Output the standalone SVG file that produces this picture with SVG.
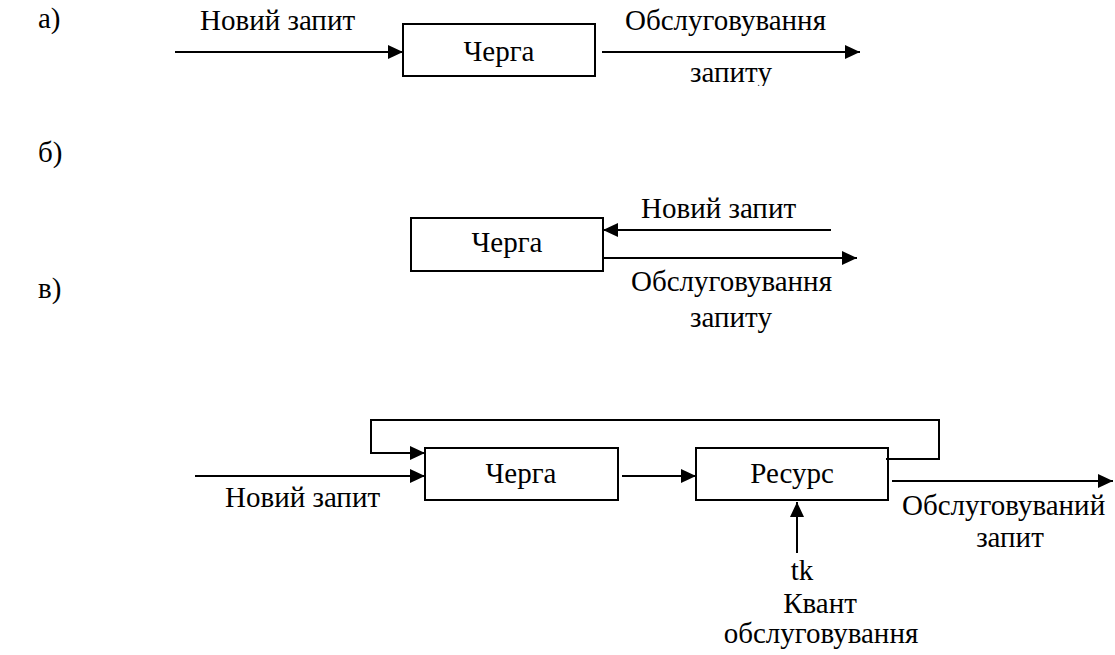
<svg xmlns="http://www.w3.org/2000/svg" width="1115" height="655" viewBox="0 0 1115 655">
<style>
text{font-family:"Liberation Serif","Times New Roman",serif;font-size:29px;fill:#000}
.m{text-anchor:middle}
.box{fill:#fff;stroke:#000;stroke-width:2}
.ln{fill:none;stroke:#000;stroke-width:2}
</style>
<defs>
<marker id="ah" viewBox="0 0 15 14" refX="15" refY="7" markerWidth="15" markerHeight="14" markerUnits="userSpaceOnUse" orient="auto">
<path d="M0,0 L15,7 L0,14 Z" fill="#000"/>
</marker>
<clipPath id="clipA"><rect x="0" y="0" width="1115" height="86"/></clipPath>
</defs>
<rect width="1115" height="655" fill="#fff"/>
<g id="labels">
<text x="38" y="28">а)</text>
<text x="38" y="162">б)</text>
<text x="38" y="298">в)</text>
</g>
<g id="a-queue"><rect class="box" x="403" y="24" width="192" height="52"/><text class="m" x="499" y="61">Черга</text></g>
<g id="b-queue"><rect class="box" x="411" y="218" width="192" height="53"/><text class="m" x="507" y="252">Черга</text></g>
<g id="c-queue"><rect class="box" x="425" y="448" width="193" height="52"/><text class="m" x="521" y="483">Черга</text></g>
<g id="c-resource"><rect class="box" x="696" y="448" width="192" height="52"/><text class="m" x="792" y="483">Ресурс</text></g>
<g id="connectors">
<line class="ln" x1="175" y1="52" x2="403" y2="52" marker-end="url(#ah)"/>
<line class="ln" x1="602" y1="52" x2="860" y2="52" marker-end="url(#ah)"/>
<line class="ln" x1="831" y1="230" x2="603" y2="230" marker-end="url(#ah)"/>
<line class="ln" x1="603" y1="258" x2="857" y2="258" marker-end="url(#ah)"/>
<line class="ln" x1="195" y1="476" x2="425" y2="476" marker-end="url(#ah)"/>
<line class="ln" x1="622" y1="476" x2="696" y2="476" marker-end="url(#ah)"/>
<polyline class="ln" points="886,459 939,459 939,420 371,420 371,453 425,453" marker-end="url(#ah)"/>
<line class="ln" x1="892" y1="481" x2="1113" y2="481" marker-end="url(#ah)"/>
<line class="ln" x1="797" y1="553" x2="797" y2="502" marker-end="url(#ah)"/>
</g>
<g id="texts">
<text x="200" y="30">Новий запит</text>
<text x="625" y="30">Обслуговування</text>
<text class="m" x="731" y="82" clip-path="url(#clipA)">запиту</text>
<text x="641" y="218">Новий запит</text>
<text x="631" y="291">Обслуговування</text>
<text class="m" x="731" y="327">запиту</text>
<text x="225" y="507">Новий запит</text>
<text x="902" y="515">Обслуговуваний</text>
<text class="m" x="1010" y="547">запит</text>
<text class="m" x="802" y="580">tk</text>
<text class="m" x="820" y="613">Квант</text>
<text class="m" x="821" y="643">обслуговування</text>
</g>
</svg>
